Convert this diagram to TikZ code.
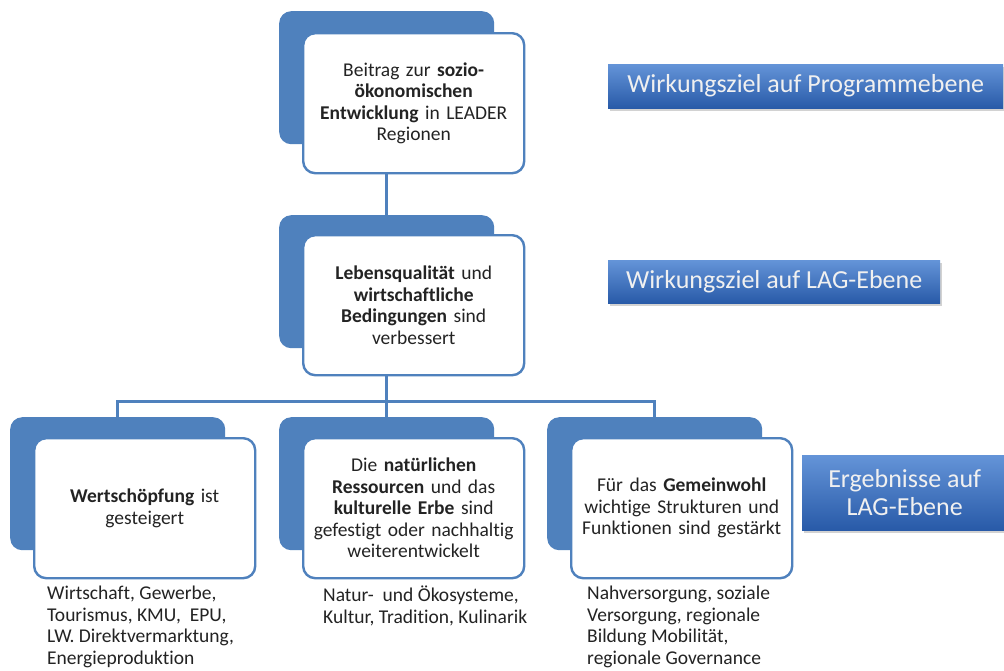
\documentclass[tikz,border=0pt]{standalone}
\usepackage{fontspec}
\setmainfont{Carlito}[Ligatures=NoCommon]
\usetikzlibrary{positioning, shadows}
\definecolor{smartblue}{RGB}{79,129,189}
\definecolor{labeltop}{RGB}{100,148,216}
\definecolor{labelbot}{RGB}{40,90,168}
\definecolor{inktext}{RGB}{35,35,35}
\tikzstyle{tabstyle} = [rectangle, rounded corners=12pt, minimum width=215pt, minimum height=133pt, inner sep=0pt, fill=smartblue, anchor=north west]
\tikzstyle{boxstyle} = [rectangle, rounded corners=12pt, minimum width=221pt, minimum height=140pt, draw=smartblue, line width=2.4pt, fill=white, text width=205pt, align=center, text=inktext, font=\fontsize{19.5}{21.5}\selectfont, anchor=north west]
\tikzstyle{notestyle} = [anchor=north west, align=left, inner sep=0pt, text=inktext, font=\fontsize{19.5}{21.5}\selectfont]
\tikzstyle{levelstyle} = [rectangle, top color=labeltop, bottom color=labelbot, drop shadow={shadow xshift=2pt, shadow yshift=-3pt, opacity=0.35}, text=white!94!black, font=\fontsize{26}{28}\selectfont, align=center, anchor=north west]
\tikzstyle{conn} = [draw=smartblue, line width=2.5pt]

\begin{document}
\begin{tikzpicture}[x=1pt, y=-1pt]
\fill[white] (0,0) rectangle (1004,670);
\useasboundingbox (0,0) rectangle (1004,670);

% Wirkungsziel Programmebene
\node (t1) [tabstyle] at (279,11) {};
\node (b1) [boxstyle] at ([shift={(23,21)}]t1.north west) {Beitrag zur \textbf{sozio-}\\\textbf{ökonomischen}\\\textbf{Entwicklung} in LEADER\\Regionen};

% Wirkungsziel LAG
\node (t2) [tabstyle] at (279,215) {};
\node (b2) [boxstyle] at ([shift={(23,19)}]t2.north west) {\textbf{Lebensqualität} und\\\textbf{wirtschaftliche}\\\textbf{Bedingungen} sind\\verbessert};

% Ergebnisse
\node (t3) [tabstyle] at (10,417) {};
\node (b3) [boxstyle] at ([shift={(23,20)}]t3.north west) {\textbf{Wertschöpfung} ist\\gesteigert};
\node (t4) [tabstyle] at (279,417) {};
\node (b4) [boxstyle] at ([shift={(23,20)}]t4.north west) {Die \textbf{natürlichen}\\\textbf{Ressourcen} und das\\\textbf{kulturelle Erbe} sind\\gefestigt oder nachhaltig\\weiterentwickelt};
\node (t5) [tabstyle] at (547,417) {};
\node (b5) [boxstyle] at ([shift={(23,20)}]t5.north west) {Für das \textbf{Gemeinwohl}\\wichtige Strukturen und\\Funktionen sind gestärkt};

% Stichworte
\node (n3) [notestyle] at (47,586) {Wirtschaft, Gewerbe,\\Tourismus, KMU,~ EPU,\\LW. Direktvermarktung,\\Energieproduktion};
\node (n4) [notestyle] at (323,586) {Natur-~ und Ökosysteme,\\Kultur, Tradition, Kulinarik};
\node (n5) [notestyle] at (587,586) {Nahversorgung, soziale\\Versorgung, regionale\\Bildung Mobilität,\\regionale Governance};

% Ebenen
\node (l1) [levelstyle, minimum width=395pt, minimum height=44pt] at (608,64) {Wirkungsziel auf Programmebene};
\node (l2) [levelstyle, minimum width=332pt, minimum height=43pt] at (608,260) {Wirkungsziel auf LAG-Ebene};
\node (l3) [levelstyle, minimum width=205pt, minimum height=75pt] at (802,455) {Ergebnisse auf\\LAG-Ebene};

% Verbindungen
\draw[conn] (b1.south -| t1.center) -- (t2.north);
\draw[conn] (b2.south -| t2.center) -- ++(0,25) coordinate (bus);
\draw[conn] (t3.north) |- (bus) -| (t5.north);
\draw[conn] (bus) -- (t4.north);
\end{tikzpicture}
\end{document}
